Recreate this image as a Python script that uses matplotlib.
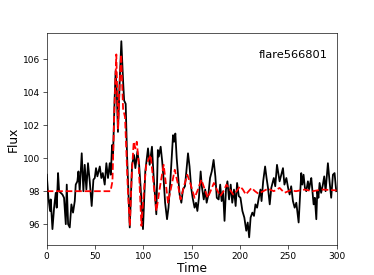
import numpy as np
import matplotlib.pyplot as plt

# Observed light curve (time, flux)
t_obs = [0, 1.7, 3.4, 4.1, 5.9, 7.6, 9.3, 10.3, 11.7, 12.8, 14.5, 16.2, 17.9, 19.7,
         20.7, 22.1, 23.8, 25.5, 27.2, 29.0, 30.0, 31.7, 32.8, 34.1, 36.2, 37.9,
         39.3, 41.0, 42.7, 44.5, 46.5, 48.3, 49.7, 51.0, 52.4, 54.9, 56.5, 58.0,
         60.0, 61.7, 63.4, 65.2, 66.3, 67.6, 68.5, 70.3, 71.3, 72.5, 73.7, 75.5,
         77.2, 79.0, 80.1, 81.7, 83.1, 85.9, 88.3, 90.3, 91.7, 93.8, 95.5, 97.2,
         99.6, 102.0, 104.8, 106.5, 108.9, 110.5, 113.4, 115.0, 116.0, 117.9,
         119.5, 121.0, 122.5, 124.5, 126.0, 128.0, 130.7, 131.8, 133.1, 134.5,
         136.0, 137.5, 139.3, 141.0, 143.0, 144.5, 146.2, 147.8, 149.5, 151.0,
         153.0, 154.5, 155.9, 157.5, 159.3, 160.5, 162.5, 164.0, 165.5, 167.3,
         169.0, 170.8, 172.7, 174.5, 176.0, 177.9, 179.5, 181.0, 182.5, 184.0,
         185.5, 187.0, 188.7, 190.4, 192.0, 193.8, 195.5, 197.0, 198.8, 200.5,
         202.5, 204.5, 206.5, 208.0, 209.5, 211.0, 212.8, 214.5, 216.0, 217.7,
         219.5, 221.2, 222.3, 224.0, 226.0, 227.5, 229.0, 230.8, 232.4, 235.0,
         236.5, 238.3, 241.0, 242.8, 244.5, 246.0, 248.0, 249.8, 251.4, 253.0,
         254.8, 256.6, 258.3, 260.7, 262.0, 263.4, 264.5, 265.8, 267.2, 268.6,
         270.3, 271.5, 272.7, 273.8, 275.0, 276.2, 277.5, 279.0, 280.0, 281.2,
         282.4, 284.0, 285.8, 287.2, 288.6, 291.0, 292.7, 294.4, 296.2, 297.9,
         299.6]
flux_obs = [99.0, 97.6, 96.8, 97.5, 95.7, 97.0, 97.9, 97.0, 99.1, 98.0, 97.9, 97.8,
            97.6, 96.0, 98.4, 96.0, 95.8, 97.2, 96.7, 97.4, 98.4, 98.6, 99.2, 98.0,
            100.3, 98.0, 99.6, 98.1, 99.7, 98.6, 97.1, 98.7, 98.8, 99.4, 98.9, 99.5,
            98.8, 99.1, 98.4, 99.7, 98.8, 99.7, 99.0, 100.8, 100.0, 103.7, 105.3,
            104.0, 101.6, 104.7, 107.1, 104.7, 103.5, 103.3, 100.2, 95.8, 99.6,
            100.2, 99.4, 100.4, 99.7, 98.2, 95.7, 99.2, 100.6, 99.6, 100.7, 99.0,
            96.6, 100.5, 100.1, 100.7, 99.8, 98.7, 97.3, 96.3, 97.0, 98.7, 101.4,
            101.0, 101.5, 100.0, 98.9, 97.8, 97.3, 98.1, 98.3, 99.2, 100.3, 99.5,
            98.2, 97.6, 97.0, 97.3, 96.8, 97.6, 99.2, 98.3, 97.5, 98.1, 97.3, 97.8,
            98.8, 99.2, 99.9, 98.9, 97.6, 97.5, 98.4, 97.4, 98.0, 96.2, 98.1, 98.6,
            97.5, 98.4, 97.3, 98.1, 97.1, 98.5, 97.7, 97.6, 96.8, 96.4, 95.6, 96.1,
            95.2, 96.4, 96.7, 96.5, 97.2, 97.0, 97.6, 98.1, 97.4, 98.6, 99.5, 98.8,
            98.2, 97.2, 98.2, 98.8, 98.3, 99.6, 98.6, 99.0, 99.4, 98.4, 98.8, 98.2,
            97.8, 98.3, 97.4, 97.0, 97.3, 96.1, 97.5, 99.1, 98.4, 99.0, 98.2, 98.0,
            98.6, 98.1, 98.5, 98.8, 98.0, 97.2, 97.6, 96.3, 98.0, 97.6, 98.5, 97.9,
            98.4, 98.9, 98.0, 99.7, 98.6, 97.6, 99.0, 99.1, 98.0]

# Flare model (time, flux)
t_mod = [0, 66, 68, 70, 72, 73.8, 75.5, 77, 79, 81, 84, 86, 88, 90, 91.7, 93.2, 95,
         98, 100.5, 103, 107.5, 110.5, 113.5, 117, 121, 123, 125.5, 129, 132.5,
         135.5, 138.5, 142, 145.5, 149, 153, 156.5, 160, 163, 166.5, 169.5, 173,
         176, 179.5, 183, 186, 189.5, 193, 196.5, 200, 203, 206, 209, 212, 215.5,
         219, 224, 229, 235, 241, 246, 252, 258, 267, 275, 285, 300]
flux_mod = [98.0, 98.0, 98.6, 103.0, 106.3, 101.8, 104.5, 106.3, 103.0, 102.5, 98.0,
            95.9, 99.0, 101.0, 100.6, 101.0, 99.8, 95.9, 98.0, 99.6, 100.2, 98.5,
            96.8, 98.2, 99.6, 98.6, 97.3, 98.3, 99.3, 98.5, 97.5, 98.3, 99.0, 98.4,
            97.6, 98.1, 98.7, 98.2, 97.6, 98.0, 98.5, 98.1, 97.7, 98.0, 98.4, 98.1,
            97.8, 98.0, 98.3, 98.1, 97.8, 98.0, 98.2, 98.0, 97.85, 98.0, 98.15, 98.0,
            98.2, 97.9, 98.05, 98.0, 98.1, 98.0, 98.1, 98.05]

fig = plt.figure(figsize=(374 / 58.5, 275 / 58.5), dpi=58.5)
ax = fig.add_subplot(111)

ax.plot(t_obs, flux_obs, 'k', lw=2.2)
ax.plot(t_mod, flux_mod, 'r--', lw=2.2)

ax.text(0.97, 0.895, 'flare566801', transform=ax.transAxes, ha='right',
        va='center', fontsize=14)
ax.set_xlim(0, 300)
ax.set_ylim(94.75, 107.6)
ax.set_yticks([96, 98, 100, 102, 104, 106])
ax.tick_params(labelsize=11, length=5)
ax.set_xlabel('Time', fontsize=15, labelpad=2)
ax.set_ylabel('Flux', fontsize=15, labelpad=4)

fig.savefig('out.png', dpi=58.5)
